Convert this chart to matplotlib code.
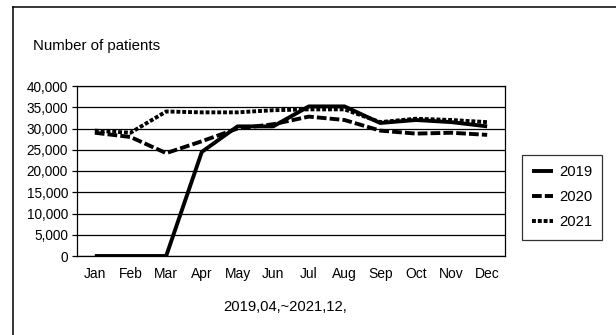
import matplotlib.pyplot as plt
from matplotlib.lines import Line2D
from matplotlib.ticker import FuncFormatter

plt.rcParams['font.family'] = ['Liberation Sans Narrow', 'Liberation Sans', 'DejaVu Sans']

months = ['Jan', 'Feb', 'Mar', 'Apr', 'May', 'Jun', 'Jul', 'Aug', 'Sep', 'Oct', 'Nov', 'Dec']
y2019 = [0, 0, 0, 24500, 30500, 30500, 35200, 35200, 31300, 32000, 31500, 30500]
y2020 = [29000, 28000, 24200, 27000, 30000, 31000, 32800, 32000, 29500, 28800, 29000, 28500]
y2021 = [29500, 29000, 34000, 33800, 33800, 34300, 34500, 34500, 31500, 32300, 32000, 31500]

fig = plt.figure(figsize=(6.16, 3.35), dpi=100)
# frame lines along the top and left edge
fig.add_artist(Line2D([12.5 / 616, 12.5 / 616], [0, 1 - 6.5 / 335], color='black', lw=1.1))
fig.add_artist(Line2D([12.5 / 616, 1], [1 - 6.5 / 335, 1 - 6.5 / 335], color='black', lw=1.1))

ax = fig.add_axes([77 / 616, (335 - 256) / 335, 428 / 616, 170 / 335])
x = range(len(months))
ax.plot(x, y2019, color='black', lw=2.8, solid_capstyle='butt', label='2019')
ax.plot(x, y2020, color='black', lw=2.8, dashes=(2.5, 0.8), label='2020')
ax.plot(x, y2021, color='black', lw=2.8, dashes=(1, 0.5), label='2021')

ax.set_xlim(-0.5, 11.5)
ax.set_ylim(0, 40000)
ax.set_yticks(range(0, 40001, 5000))
ax.yaxis.set_major_formatter(FuncFormatter(lambda v, p: f'{int(v):,}'))
ax.set_xticks(list(x))
ax.set_xticklabels(months)
ax.grid(axis='y', color='black', lw=0.9)
ax.tick_params(axis='x', length=0, pad=8, labelsize=10)
ax.tick_params(axis='y', length=3.5, width=0.9, pad=3, labelsize=9.8)
for s in ax.spines.values():
    s.set_linewidth(0.9)

fig.text(33 / 616, 1 - 46 / 335, 'Number of patients', fontsize=10.8, va='center')
fig.text(285 / 616, 1 - 307 / 335, '2019,04,~2021,12,', fontsize=10.6, ha='center', va='center')

leg = ax.legend(loc='upper left', bbox_to_anchor=(522 / 616, 1 - 155 / 335),
                bbox_transform=fig.transFigure, frameon=True, fancybox=False,
                edgecolor='black', fontsize=10.6, handlelength=1.4, handletextpad=0.4,
                borderpad=0.7, labelspacing=0.75, borderaxespad=0)
leg.get_frame().set_linewidth(0.9)

fig.savefig('out.png', dpi=100)
